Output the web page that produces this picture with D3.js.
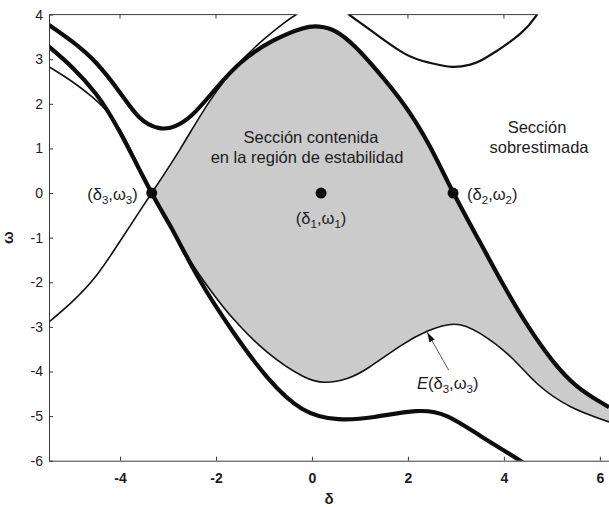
<!DOCTYPE html>
<html>
<head>
<meta charset="utf-8">
<script src="https://cdn.jsdelivr.net/npm/d3@7"></script>
<style>
  body { margin: 0; background: #fff; }
  svg { display: block; }
  text { font-family: "Liberation Sans", Arial, Helvetica, sans-serif; fill: #1c1c1c; }
</style>
</head>
<body>
<svg id="chart" width="609" height="507"></svg>
<script>
// Trajectories in the (δ, ω) phase plane, as [δ, ω] pairs
const upperSeparatrix = [
  [-5.48, 3.77], [-5.00, 3.40], [-4.50, 2.92], [-4.00, 2.25], [-3.60, 1.70],
  [-3.20, 1.46], [-2.85, 1.50], [-2.50, 1.75], [-2.10, 2.22], [-1.50, 2.91],
  [-0.80, 3.42], [-0.20, 3.69], [0.15, 3.73], [0.50, 3.62], [0.90, 3.28],
  [1.35, 2.75], [1.92, 1.98], [2.45, 1.06], [2.95, 0.00], [3.50, -1.10],
  [4.00, -2.08], [4.50, -2.98], [5.00, -3.74], [5.50, -4.31], [6.00, -4.68],
  [6.19, -4.80]
];
const lowerSeparatrix = [
  [-5.48, 3.28], [-5.00, 2.82], [-4.50, 2.22], [-4.00, 1.36], [-3.34, 0.00],
  [-2.90, -0.84], [-2.34, -1.95], [-1.64, -3.12], [-0.94, -4.12], [-0.20, -4.84],
  [0.55, -5.07], [1.30, -5.02], [2.16, -4.89], [2.81, -5.00], [3.52, -5.45],
  [4.38, -6.03], [4.70, -6.30]
];
const estimateLower = [
  [-5.48, 2.83], [-5.00, 2.50], [-4.60, 2.17], [-4.20, 1.74], [-3.80, 1.02],
  [-3.34, 0.00], [-2.90, -0.83], [-2.50, -1.58], [-2.10, -2.20], [-1.64, -2.82],
  [-0.94, -3.56], [-0.20, -4.10], [0.28, -4.24], [0.75, -4.15], [1.20, -3.90],
  [1.87, -3.41], [2.40, -3.10], [2.96, -2.94], [3.51, -3.15], [4.14, -3.67],
  [4.69, -4.27], [5.39, -4.79], [6.19, -5.13]
];
const estimateRising = [
  [-5.48, -2.89], [-5.00, -2.44], [-4.50, -1.86], [-4.00, -1.08], [-3.34, 0.00],
  [-2.75, 0.98], [-2.13, 2.06], [-1.50, 2.93], [-1.00, 3.45], [-0.60, 3.80],
  [-0.30, 4.02], [0.00, 4.20]
];
const upperBranch = [
  [0.55, 4.20], [0.77, 4.00], [1.22, 3.65], [1.92, 3.13], [2.45, 2.92],
  [2.92, 2.83], [3.30, 2.88], [3.65, 3.05], [4.35, 3.58], [4.69, 4.00], [4.85, 4.22]
];

// Equilibrium points
const equilibria = [
  { id: "1", d: 0.19, w: 0 },
  { id: "2", d: 2.94, w: 0 },
  { id: "3", d: -3.34, w: 0 }
];

// Axis ticks and the spans of the top frame
const xTicks = [-4, -2, 0, 2, 4, 6];
const yTicks = [-6, -5, -4, -3, -2, -1, 0, 1, 2, 3, 4];
const topFrameSpans = [[-5.48, -0.33], [0.77, 4.69]];

// Arrow pointing at the estimate curve
const arrowTail = [2.85, -3.97];
const arrowHead = [2.40, -3.12];

const svg = d3.select("#chart");
const plot = { left: 49, right: 609, top: 14.6, bottom: 460.7 };

const x = d3.scaleLinear().domain([-5.48, 6.19]).range([plot.left, plot.right]);
const y = d3.scaleLinear().domain([-6, 4]).range([plot.bottom, plot.top]);

const line = d3.line()
  .x(d => x(d[0])).y(d => y(d[1]))
  .curve(d3.curveNatural);

const defs = svg.append("defs");
defs.append("clipPath").attr("id", "plotClip")
  .append("rect")
  .attr("x", plot.left).attr("y", plot.top)
  .attr("width", plot.right - plot.left).attr("height", plot.bottom - plot.top);

// Far corners used to close the half-planes around each curve
const farL = x(-7), farR = x(8), farT = y(6), farB = y(-8);
const first = s => s[0], last = s => s[s.length - 1];

// Region above the lower estimate curve
defs.append("clipPath").attr("id", "aboveLower")
  .append("path")
  .attr("d", line(estimateLower) +
    `L${farR},${y(last(estimateLower)[1])}L${farR},${farT}L${farL},${farT}L${farL},${y(first(estimateLower)[1])}Z`);
// Region below / right of the rising estimate curve
defs.append("clipPath").attr("id", "belowRising")
  .append("path")
  .attr("d", line(estimateRising) +
    `L${farR},${y(last(estimateRising)[1])}L${farR},${farB}L${farL},${farB}L${farL},${y(first(estimateRising)[1])}Z`);

const marker = defs.append("marker")
  .attr("id", "arrowhead")
  .attr("viewBox", "0 0 10 6")
  .attr("refX", 10).attr("refY", 3)
  .attr("markerUnits", "userSpaceOnUse")
  .attr("markerWidth", 10).attr("markerHeight", 6)
  .attr("orient", "auto");
marker.append("path").attr("d", "M0,0 L10,3 L0,6 Z").attr("fill", "#111");

const g = svg.append("g").attr("clip-path", "url(#plotClip)");

// Shaded section: under the upper separatrix, above the lower estimate,
// and under the rising estimate curve
g.append("g").attr("clip-path", "url(#belowRising)")
  .append("g").attr("clip-path", "url(#aboveLower)")
  .append("path")
  .attr("d", line(upperSeparatrix) +
    `L${farR},${y(last(upperSeparatrix)[1])}L${farR},${farB}L${farL},${farB}L${farL},${y(first(upperSeparatrix)[1])}Z`)
  .attr("fill", "#cbcbcb");

// Thin trajectories
[estimateLower, estimateRising].forEach(s => {
  g.append("path").attr("d", line(s))
    .attr("fill", "none").attr("stroke", "#111").attr("stroke-width", 1.6);
});
g.append("path").attr("d", line(upperBranch))
  .attr("fill", "none").attr("stroke", "#111").attr("stroke-width", 2.2);

// Thick separatrices
[upperSeparatrix, lowerSeparatrix].forEach(s => {
  g.append("path").attr("d", line(s))
    .attr("fill", "none").attr("stroke", "#0d0d0d").attr("stroke-width", 4.2)
    .attr("stroke-linejoin", "round");
});

// Equilibrium markers
g.selectAll("circle.eq").data(equilibria).join("circle")
  .attr("class", "eq")
  .attr("cx", d => x(d.d)).attr("cy", d => y(d.w))
  .attr("r", 5.5).attr("fill", "#0d0d0d");

// Axes
const axisColor = "#3a3a3a";
const fmt = d => String(d);
const yAxis = svg.append("g").attr("transform", `translate(${plot.left},0)`)
  .call(d3.axisLeft(y).tickValues(yTicks).tickSize(-4).tickSizeOuter(0).tickPadding(6)
    .tickFormat(fmt));
yAxis.selectAll("text").attr("font-size", 14).style("fill", "#1c1c1c")
  .style("font-family", "'Liberation Sans', Arial, sans-serif");

const xAxis = svg.append("g").attr("transform", `translate(0,${plot.bottom})`)
  .call(d3.axisBottom(x).tickValues(xTicks).tickSize(-4).tickSizeOuter(0).tickPadding(12)
    .tickFormat(fmt));
xAxis.selectAll("text").attr("font-size", 14).attr("font-weight", "bold").style("fill", "#1c1c1c")
  .style("font-family", "'Liberation Sans', Arial, sans-serif");

[yAxis, xAxis].forEach(a => {
  a.selectAll("path,line").attr("stroke", axisColor).attr("stroke-width", 1);
});

// Top frame with downward ticks
topFrameSpans.forEach(span => {
  svg.append("line")
    .attr("x1", x(span[0])).attr("x2", x(span[1]))
    .attr("y1", plot.top).attr("y2", plot.top)
    .attr("stroke", axisColor).attr("stroke-width", 1);
  xTicks.filter(t => t > span[0] && t < span[1]).forEach(t => {
    svg.append("line")
      .attr("x1", x(t)).attr("x2", x(t))
      .attr("y1", plot.top).attr("y2", plot.top + 4)
      .attr("stroke", axisColor).attr("stroke-width", 1);
  });
});

// Axis titles
svg.append("text")
  .attr("x", (plot.left + plot.right) / 2).attr("y", 504)
  .attr("text-anchor", "middle").attr("font-size", 15).attr("font-weight", "bold")
  .text("δ");
svg.append("text")
  .attr("transform", `translate(13,${(plot.top + plot.bottom) / 2}) rotate(-90)`)
  .attr("text-anchor", "middle").attr("font-size", 15).attr("font-weight", "bold")
  .text("ω");

// Label "(δi,ωi)" with subscripts
function pointLabel(sel, id, italicE) {
  if (italicE) sel.append("tspan").attr("font-style", "italic").text("E");
  sel.append("tspan").text("(δ");
  sel.append("tspan").attr("font-size", 11.5).attr("dy", 4).text(id);
  sel.append("tspan").attr("dy", -4).text(",ω");
  sel.append("tspan").attr("font-size", 11.5).attr("dy", 4).text(id);
  sel.append("tspan").attr("dy", -4).text(")");
}

const fs = 16.5;
const eq = id => equilibria.find(e => e.id === id);

pointLabel(svg.append("text")
  .attr("x", x(eq("3").d) - 14).attr("y", y(0) + 7)
  .attr("text-anchor", "end").attr("font-size", fs), "3");
pointLabel(svg.append("text")
  .attr("x", x(eq("1").d)).attr("y", y(0) + 31)
  .attr("text-anchor", "middle").attr("font-size", fs), "1");
pointLabel(svg.append("text")
  .attr("x", x(eq("2").d) + 14).attr("y", y(0) + 7)
  .attr("text-anchor", "start").attr("font-size", fs), "2");

// Arrow and estimate label
svg.append("line")
  .attr("x1", x(arrowTail[0])).attr("y1", y(arrowTail[1]))
  .attr("x2", x(arrowHead[0])).attr("y2", y(arrowHead[1]))
  .attr("stroke", "#555").attr("stroke-width", 1)
  .attr("marker-end", "url(#arrowhead)");
pointLabel(svg.append("text")
  .attr("x", 417).attr("y", 389)
  .attr("text-anchor", "start").attr("font-size", fs), "3", true);

// Region captions
const captions = [
  { text: "Sección contenida", cx: 311, by: 143 },
  { text: "en la región de estabilidad", cx: 307, by: 163 },
  { text: "Sección", cx: 537, by: 133 },
  { text: "sobrestimada", cx: 539, by: 153 }
];
svg.selectAll("text.caption").data(captions).join("text")
  .attr("class", "caption")
  .attr("x", d => d.cx).attr("y", d => d.by)
  .attr("text-anchor", "middle").attr("font-size", fs)
  .text(d => d.text);
</script>
</body>
</html>
